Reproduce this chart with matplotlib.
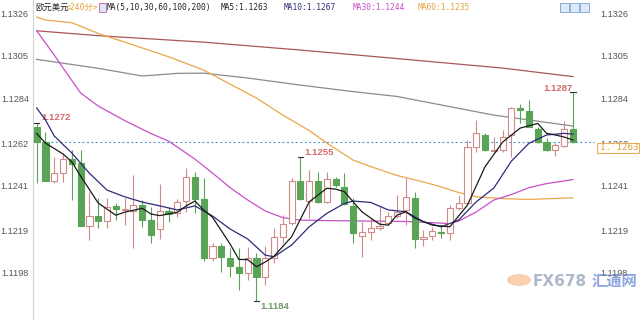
import matplotlib
matplotlib.use("Agg")
import matplotlib.pyplot as plt
from matplotlib.patches import Rectangle, Circle

# 240分 K线 (欧元美元)
opens = [1.12700, 1.12627, 1.12434, 1.12474, 1.12541, 1.12520, 1.12212, 1.12260, 1.12237, 1.12309,
         1.12288, 1.12286, 1.12314, 1.12240, 1.12194, 1.12285, 1.12276, 1.12334, 1.12451, 1.12342,
         1.12051, 1.12112, 1.12051, 1.12010, 1.11977, 1.12051, 1.11960, 1.12051, 1.12155, 1.12224,
         1.12434, 1.12334, 1.12434, 1.12330, 1.12441, 1.12404, 1.12309, 1.12163, 1.12182, 1.12202,
         1.12227, 1.12260, 1.12290, 1.12350, 1.12145, 1.12163, 1.12182, 1.12177, 1.12298, 1.12326,
         1.12602, 1.12660, 1.12581, 1.12586, 1.12660, 1.12791, 1.12778, 1.12689, 1.12627, 1.12586,
         1.12605, 1.12689]
highs = [1.12720, 1.12673, 1.12553, 1.12569, 1.12586, 1.12586, 1.12380, 1.12347, 1.12347, 1.12323,
         1.12347, 1.12462, 1.12339, 1.12306, 1.12418, 1.12306, 1.12342, 1.12495, 1.12478, 1.12446,
         1.12125, 1.12125, 1.12100, 1.12100, 1.12108, 1.12076, 1.12112, 1.12199, 1.12265, 1.12446,
         1.12550, 1.12487, 1.12478, 1.12478, 1.12454, 1.12474, 1.12347, 1.12232, 1.12249, 1.12303,
         1.12281, 1.12363, 1.12446, 1.12380, 1.12191, 1.12207, 1.12215, 1.12314, 1.12363, 1.12635,
         1.12734, 1.12668, 1.12651, 1.12684, 1.12796, 1.12813, 1.12832, 1.12700, 1.12643, 1.12619,
         1.12730, 1.12870]
lows = [1.12421, 1.12432, 1.12421, 1.12429, 1.12339, 1.12210, 1.12142, 1.12199, 1.12199, 1.12240,
        1.12215, 1.12100, 1.12207, 1.12125, 1.12145, 1.12232, 1.12256, 1.12281, 1.12273, 1.12039,
        1.12039, 1.11985, 1.11960, 1.11895, 1.11944, 1.11840, 1.11919, 1.12027, 1.12125, 1.12215,
        1.12339, 1.12249, 1.12326, 1.12326, 1.12404, 1.12314, 1.12125, 1.12059, 1.12142, 1.12191,
        1.12215, 1.12249, 1.12215, 1.12100, 1.12114, 1.12142, 1.12150, 1.12142, 1.12290, 1.12323,
        1.12577, 1.12582, 1.12577, 1.12577, 1.12553, 1.12717, 1.12698, 1.12619, 1.12582, 1.12556,
        1.12602, 1.12622]
closes = [1.12627, 1.12434, 1.12471, 1.12541, 1.12515, 1.12212, 1.12260, 1.12237, 1.12306, 1.12293,
          1.12294, 1.12313, 1.12240, 1.12166, 1.12285, 1.12270, 1.12330, 1.12454, 1.12342, 1.12051,
          1.12112, 1.12056, 1.12013, 1.11977, 1.12051, 1.11960, 1.12051, 1.12155, 1.12220, 1.12434,
          1.12344, 1.12434, 1.12330, 1.12441, 1.12413, 1.12319, 1.12175, 1.12182, 1.12202, 1.12212,
          1.12260, 1.12281, 1.12352, 1.12145, 1.12155, 1.12187, 1.12175, 1.12298, 1.12326, 1.12602,
          1.12668, 1.12586, 1.12586, 1.12651, 1.12791, 1.12783, 1.12700, 1.12627, 1.12586, 1.12610,
          1.12688, 1.12627]

# 均线 (读图取点)
ma5_idx = [0, 1, 3, 4, 5, 7, 9, 10, 12, 13, 14, 16, 17, 18, 19, 20, 22, 23, 24, 25, 26, 27, 29, 31,
           33, 34, 35, 36, 37, 38, 39, 40, 41, 42, 43, 45, 47, 49, 51, 53, 55, 57, 58, 59, 60, 61]
ma5_val = [1.12667, 1.12620, 1.12566, 1.12527, 1.12457, 1.12324, 1.12264, 1.12279, 1.12298, 1.12270,
           1.12262, 1.12279, 1.12310, 1.12334, 1.12290, 1.12254, 1.12122, 1.12046, 1.12045, 1.12010,
           1.12033, 1.12062, 1.12158, 1.12330, 1.12397, 1.12393, 1.12380, 1.12330, 1.12281, 1.12250,
           1.12220, 1.12215, 1.12265, 1.12281, 1.12250, 1.12215, 1.12207, 1.12314, 1.12503, 1.12625,
           1.12694, 1.12717, 1.12668, 1.12660, 1.12650, 1.12635]
ma10_idx = [0, 1, 2, 4, 6, 8, 10, 12, 14, 16, 18, 20, 22, 24, 26, 27, 29, 31, 33, 35, 36, 38, 40,
            42, 44, 46, 48, 50, 52, 54, 56, 58, 60, 61]
ma10_val = [1.12793, 1.12734, 1.12655, 1.12571, 1.12471, 1.12388, 1.12355, 1.12329, 1.12310, 1.12290,
            1.12310, 1.12260, 1.12196, 1.12147, 1.12067, 1.12059, 1.12117, 1.12207, 1.12273, 1.12322,
            1.12334, 1.12327, 1.12290, 1.12281, 1.12232, 1.12207, 1.12240, 1.12330, 1.12398, 1.12531,
            1.12619, 1.12660, 1.12668, 1.12664]
ma30_idx = [0, 2, 3, 5, 7, 10, 13, 15, 18, 20, 22, 24, 26, 28, 30, 34, 38, 42, 46, 47, 48, 50, 52,
            54, 56, 58, 61]
ma30_val = [1.13174, 1.13054, 1.12990, 1.12867, 1.12803, 1.12731, 1.12667, 1.12630, 1.12541, 1.12472,
            1.12400, 1.12339, 1.12285, 1.12252, 1.12240, 1.12237, 1.12235, 1.12233, 1.12225, 1.12223,
            1.12235, 1.12280, 1.12339, 1.12366, 1.12400, 1.12420, 1.12440]
ma60_idx = [0, 1, 4, 7, 11, 15, 19, 22, 25, 28, 31, 33, 36, 38, 41, 44, 46, 48, 50, 53, 56, 61]
ma60_val = [1.13242, 1.13227, 1.13214, 1.13161, 1.13104, 1.13046, 1.12980, 1.12911, 1.12842, 1.12758,
            1.12682, 1.12620, 1.12536, 1.12504, 1.12460, 1.12428, 1.12404, 1.12376, 1.12355, 1.12346,
            1.12342, 1.12350]
ma100_idx = [0, 7, 12, 16, 19, 24, 30, 36, 41, 49, 52, 56, 61]
ma100_val = [1.13033, 1.12989, 1.12951, 1.12964, 1.12965, 1.12941, 1.12906, 1.12874, 1.12850, 1.12783,
             1.12758, 1.12734, 1.12704]
ma200_idx = [0, 7, 19, 30, 41, 53, 61]
ma200_val = [1.13174, 1.13150, 1.13118, 1.13079, 1.13037, 1.12990, 1.12948]

ytick_vals = [1.1326, 1.1305, 1.1284, 1.1262, 1.1241, 1.1219, 1.1198]
ytick_labels = ["1.1326", "1.1305", "1.1284", "1.1262", "1.1241", "1.1219", "1.1198"]

# 最高/最低标注: (索引, 价格, 文本)
marks = [(0, 1.1272, "1.1272"), (30, 1.1255, "1.1255"), (25, 1.1184, "1.1184"), (61, 1.1287, "1.1287")]
last_price = "1. 1263"

UP = "#d08a8a"
DOWN = "#5aa457"

fig = plt.figure(figsize=(6.4, 3.2), dpi=100)
W, H = 640.0, 320.0
ax = fig.add_axes([33 / W, 0, (595 - 33) / W, 1])
ax.set_xlim(-0.42, 63.51)
ax.set_ylim(1.11747, 1.13326)

# 均线
ax.plot(ma200_idx, ma200_val, color="#a8585a", lw=0.9, zorder=2)
ax.plot(ma100_idx, ma100_val, color="#8c8c8c", lw=0.9, zorder=2)
ax.plot(ma60_idx, ma60_val, color="#eaa64a", lw=0.9, zorder=2)
ax.plot(ma30_idx, ma30_val, color="#c84fc8", lw=0.9, zorder=2)

# K线
for i in range(len(opens)):
    o, h, l, c = opens[i], highs[i], lows[i], closes[i]
    col = UP if c >= o else DOWN
    ax.vlines(i, l, h, color=col, lw=0.8, zorder=3)
    bot = min(o, c)
    hgt = max(abs(c - o), 0.00004)
    if c >= o:
        ax.bar(i, hgt, bottom=bot, width=0.7, facecolor="white", edgecolor=col, lw=0.8, zorder=4)
    else:
        ax.bar(i, hgt, bottom=bot, width=0.7, facecolor=col, edgecolor=col, lw=0.8, zorder=4)

ax.plot(ma10_idx, ma10_val, color="#2c2c7a", lw=0.9, zorder=5)
ax.plot(ma5_idx, ma5_val, color="#1a1a1a", lw=0.9, zorder=5)

# 现价虚线
ax.axhline(closes[-1], color="#5b9bd5", lw=0.8, ls=(0, (2, 2)), zorder=1)

# 高低点标注
for idx, p, txt in marks:
    ax.plot([idx - 0.3, idx + 0.3], [p, p], color="#333333", lw=0.8, zorder=6)
    if txt == "1.1184":
        ax.text(idx + 0.5, p - 0.00025, txt, color="#6f9a6a", fontsize=6.8, fontweight="bold",
                family="Liberation Sans", va="center", ha="left")
    elif idx == 61:
        ax.text(idx - 3.4, p + 0.0002, txt, color="#d46a6a", fontsize=6.8, fontweight="bold",
                family="Liberation Sans", va="center", ha="left")
    else:
        ax.text(idx + 0.5, p + 0.00025, txt, color="#d46a6a", fontsize=6.8, fontweight="bold",
                family="Liberation Sans", va="center", ha="left")

# 坐标轴
ax.set_yticks(ytick_vals)
ax.set_yticklabels(ytick_labels)
ax.tick_params(axis="y", length=0, pad=3, labelsize=6.6, labelcolor="#555555")
ax.set_xticks([])
for lab in ax.get_yticklabels():
    lab.set_family("Liberation Sans")
for s in ["top", "right", "bottom"]:
    ax.spines[s].set_visible(False)
ax.spines["left"].set_color("#d0d0d0")
ax.spines["left"].set_linewidth(0.8)

ax2 = ax.twinx()
ax2.set_ylim(ax.get_ylim())
ax2.set_yticks(ytick_vals)
ax2.set_yticklabels(ytick_labels)
ax2.tick_params(axis="y", length=0, pad=4, labelsize=6.6, labelcolor="#555555")
for lab in ax2.get_yticklabels():
    lab.set_family("Liberation Sans")
for s in ["top", "right", "bottom", "left"]:
    ax2.spines[s].set_visible(False)

# 标题行
ty = 1 - 7.5 / H
fam = ["DejaVu Sans Mono", "Noto Sans CJK SC"]
fig.text(35 / W, ty, "欧元美元", color="#222222", fontsize=6.0, family=fam, va="center")
fig.text(66 / W, ty, "<240分>", color="#e6a23c", fontsize=5.8, family=fam, va="center")
fig.patches.append(Rectangle((99 / W, 1 - 11.5 / H), 7 / W, 8 / H, transform=fig.transFigure,
                             facecolor="#dfe8f7", edgecolor="#c060a0", lw=0.6))
fig.text(107 / W, ty, "MA(5,10,30,60,100,200)", color="#222222", fontsize=5.7, family=fam, va="center")
fig.text(221 / W, ty, "MA5:1.1263", color="#222222", fontsize=5.7, family=fam, va="center")
fig.text(284 / W, ty, "MA10:1.1267", color="#2c2c7a", fontsize=5.7, family=fam, va="center")
fig.text(353 / W, ty, "MA30:1.1244", color="#c84fc8", fontsize=5.7, family=fam, va="center")
fig.text(418 / W, ty, "MA60:1.1235", color="#e6a23c", fontsize=5.7, family=fam, va="center")
for bx in [560, 570, 580]:
    fig.patches.append(Rectangle((bx / W, 1 - 12 / H), 8.5 / W, 9 / H, transform=fig.transFigure,
                                 facecolor="#dfeaf8", edgecolor="#7aa0d0", lw=0.6))

# 现价标签
fig.patches.append(Rectangle((597 / W, 1 - 153 / H), 42 / W, 10 / H, transform=fig.transFigure,
                             facecolor="#fffdf5", edgecolor="#eab060", lw=0.8, zorder=10))
fig.text(600 / W, 1 - 148 / H, last_price, color="#e0a040", fontsize=6.6, family=fam,
         va="center", zorder=11)

# 水印
fig.patches.append(Circle((519 / W, 1 - 280 / H), 12 / W, transform=fig.transFigure,
                          facecolor="#f5a86a", edgecolor="none", alpha=0.55))
fig.text(533 / W, 1 - 281 / H, "FX678", color="#9aa6bd", fontsize=11, fontweight="bold",
         family="DejaVu Sans", va="center", alpha=0.8)
fig.text(592 / W, 1 - 281 / H, "汇通网", color="#5b7fd0", fontsize=11, fontweight="bold",
         family="Noto Sans CJK SC", va="center", alpha=0.7)

plt.savefig("out.png", dpi=100)
